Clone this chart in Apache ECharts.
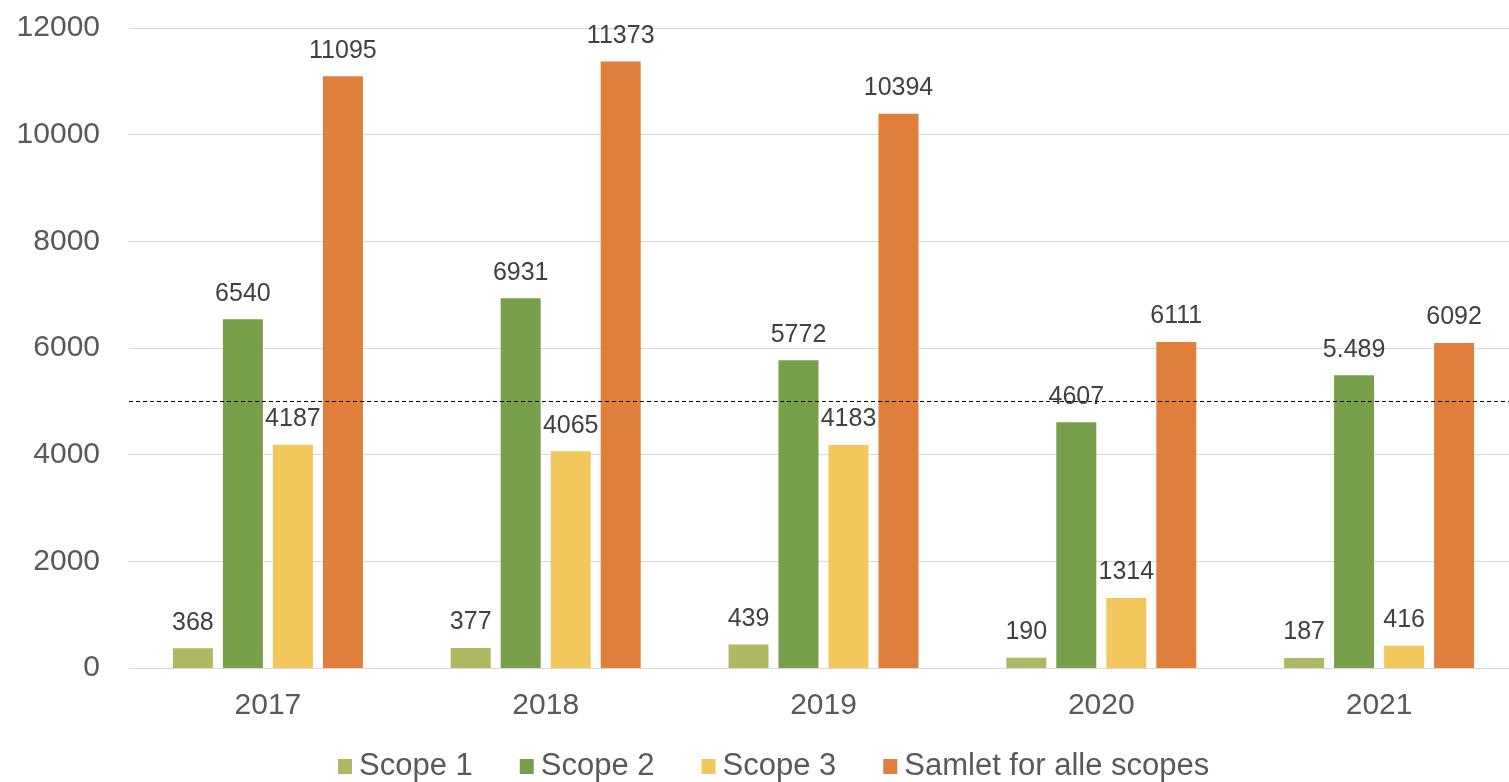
<!DOCTYPE html>
<html>
<head>
<meta charset="utf-8">
<script src="https://cdn.jsdelivr.net/npm/echarts@6/dist/echarts.min.js"></script>
<style>
html,body{margin:0;padding:0;background:#fff;overflow:hidden;}
#c{width:1518px;height:782px;}
</style>
</head>
<body>
<div id="c"></div>
<script>
const categories = ['2017', '2018', '2019', '2020', '2021'];
const scope1 = [368, 377, 439, 190, 187];
const scope2 = [6540, 6931, 5772, 4607, 5489];
const scope2Labels = ['6540', '6931', '5772', '4607', '5.489'];
const scope3 = [4187, 4065, 4183, 1314, 416];
const total = [11095, 11373, 10394, 6111, 6092];
const seriesNames = ['Scope 1', 'Scope 2', 'Scope 3', 'Samlet for alle scopes'];
const yTicks = { min: 0, max: 12000, interval: 2000 };
const referenceLine = 5000;

const colors = ['#AFB963', '#78A04B', '#F2C75C', '#E07E3C'];
const font = 'Liberation Sans, Arial, sans-serif';

function barSeries(name, data, color, labels) {
  return {
    name: name,
    type: 'bar',
    data: data,
    barWidth: 40,
    barGap: '25%',
    itemStyle: { color: color },
    label: {
      show: true,
      position: 'top',
      distance: 13,
      fontFamily: font,
      fontSize: 25,
      color: '#404040',
      formatter: labels ? (p) => labels[p.dataIndex] : '{c}'
    }
  };
}

const series = [
  barSeries(seriesNames[0], scope1, colors[0]),
  barSeries(seriesNames[1], scope2, colors[1], scope2Labels),
  barSeries(seriesNames[2], scope3, colors[2]),
  barSeries(seriesNames[3], total, colors[3])
];
series[3].markLine = {
  silent: true,
  symbol: 'none',
  label: { show: false },
  lineStyle: { color: '#000', type: [4, 3], width: 1 },
  data: [{ yAxis: referenceLine }]
};

const chart = echarts.init(document.getElementById('c'));
chart.setOption({
  animation: false,
  color: colors,
  grid: { left: 129, right: 0, top: 28, height: 640 },
  legend: {
    top: 746,
    left: 333,
    itemWidth: 14,
    itemHeight: 15,
    itemGap: 47,
    icon: 'rect',
    textStyle: { fontFamily: font, fontSize: 31, color: '#595959', padding: [0, 0, 0, 2] },
    data: seriesNames
  },
  xAxis: {
    type: 'category',
    data: categories,
    axisLine: { lineStyle: { color: '#D9D9D9', width: 1 } },
    axisTick: { show: false },
    axisLabel: { fontFamily: font, fontSize: 30, color: '#595959', margin: 23 }
  },
  yAxis: {
    type: 'value',
    min: yTicks.min,
    max: yTicks.max,
    interval: yTicks.interval,
    axisLine: { show: false },
    axisTick: { show: false },
    splitLine: { lineStyle: { color: '#D9D9D9', width: 1 } },
    axisLabel: { fontFamily: font, fontSize: 30, color: '#595959', margin: 29, formatter: (v) => String(v) }
  },
  series: series
});
</script>
</body>
</html>
